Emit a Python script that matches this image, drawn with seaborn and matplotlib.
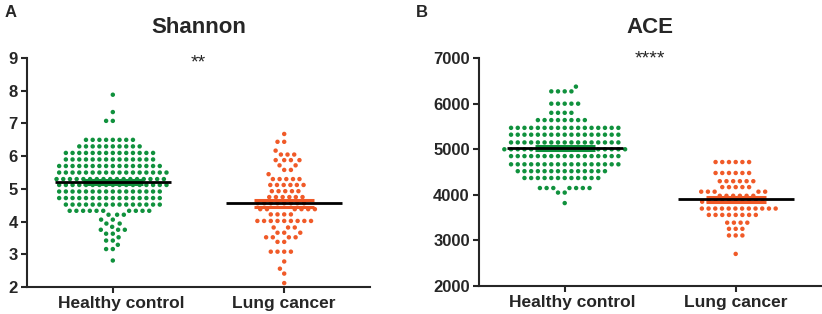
import numpy as np
import pandas as pd
import matplotlib
matplotlib.use("Agg")
import matplotlib.pyplot as plt
import matplotlib.transforms as mtransforms
import seaborn as sns

groups = ["Healthy control", "Lung cancer"]
colors = ["#10913d", "#f05a28"]

shannon_hc_levels = [7.88, 7.35, 7.08, 6.50, 6.30, 6.10, 5.90, 5.70, 5.50, 5.30,
                     5.12, 4.92, 4.72, 4.52, 4.33, 4.21, 4.06, 3.94, 3.84, 3.75,
                     3.63, 3.52, 3.42, 3.29, 3.16, 2.81]
shannon_hc_counts = [1, 1, 2, 8, 10, 14, 14, 16, 17, 17,
                     17, 16, 16, 15, 10, 3, 2, 2, 1, 3,
                     2, 1, 2, 1, 2, 1]
shannon_lc_levels = [6.68, 6.44, 6.17, 6.05, 5.88, 5.72, 5.58, 5.45, 5.30, 5.12,
                     4.93, 4.75, 4.56, 4.38, 4.22, 4.02, 3.82, 3.66, 3.52, 3.38,
                     3.08, 2.78, 2.56, 2.41, 2.12]
shannon_lc_counts = [1, 2, 1, 3, 4, 2, 2, 1, 5, 6,
                     5, 6, 8, 6, 4, 9, 3, 3, 4, 2,
                     4, 1, 1, 1, 1]

# ACE index
ace_hc_levels = [6374, 6270, 6000, 5800, 5640, 5470, 5320, 5150, 5000, 4850,
                 4670, 4520, 4370, 4150, 4050, 3820]
ace_hc_counts = [1, 4, 5, 4, 8, 17, 17, 17, 19, 17,
                 17, 14, 12, 7, 2, 1]
ace_lc_levels = [4720, 4480, 4300, 4170, 4070, 3980, 3850, 3700, 3560, 3390,
                 3255, 3110, 2705]
ace_lc_counts = [6, 6, 6, 5, 5, 6, 10, 12, 8, 4, 3, 3, 1]

panels = [
    ("A", "Shannon", shannon_hc_levels, shannon_hc_counts, shannon_lc_levels, shannon_lc_counts,
     (2, 9), np.arange(2, 10, 1), "**", 8.85),
    ("B", "ACE", ace_hc_levels, ace_hc_counts, ace_lc_levels, ace_lc_counts,
     (2000, 7000), np.arange(2000, 7001, 1000), "****", 6980),
]

sns.set_style("ticks")
plt.rcParams["font.family"] = ["Liberation Sans", "DejaVu Sans"]
plt.rcParams["axes.linewidth"] = 1.5

fig = plt.figure(figsize=(8.22, 3.14), dpi=100)
axes_pos = [[0.033, 0.086, 0.417, 0.729], [0.583, 0.089, 0.416, 0.726]]
letter_x = [0.006, 0.506]

for pos, lx, (letter, title, hc_lv, hc_n, lc_lv, lc_n, ylim, yticks, stars, star_y) in zip(axes_pos, letter_x, panels):
    ax = fig.add_axes(pos)
    df = pd.DataFrame({
        "group": np.repeat(groups, [sum(hc_n), sum(lc_n)]),
        "value": np.concatenate([np.repeat(hc_lv, hc_n), np.repeat(lc_lv, lc_n)]),
    })
    # linewidth with no edge colour only spaces the dots apart
    sns.swarmplot(data=df, x="group", y="value", hue="group", order=groups, hue_order=groups,
                  palette=colors, size=3.2, linewidth=1.4, edgecolor="none",
                  legend=False, warn_thresh=1, ax=ax)

    # mean line and SEM bars
    for i, g in enumerate(groups):
        v = df.loc[df["group"] == g, "value"]
        m, se = v.mean(), v.sem()
        ax.hlines([m - se, m + se], i - 0.175, i + 0.175, color=colors[i], lw=2.2, zorder=5)
        ax.hlines(m, i - 0.34, i + 0.34, color="black", lw=2.0, zorder=6)

    ax.set_xlim(-0.5, 1.5)
    ax.set_ylim(*ylim)
    ax.set_yticks(yticks)
    ax.set_xlabel("")
    ax.set_ylabel("")
    ax.tick_params(axis="both", width=1.5, length=4.3, labelsize=12, pad=2.5)
    ax.tick_params(axis="x", labelsize=12.5)
    for lab in ax.get_xticklabels() + ax.get_yticklabels():
        lab.set_fontweight("bold")
    # first category label sits a little right of its tick in the original
    hc_lab = ax.get_xticklabels()[0]
    hc_lab.set_transform(hc_lab.get_transform() + mtransforms.ScaledTranslation(8 / 100, 0, fig.dpi_scale_trans))
    sns.despine(ax=ax)
    ax.set_title(title, fontsize=16, fontweight="bold", pad=18)
    ax.text(0.5, star_y, stars, ha="center", va="center", fontsize=14)
    fig.text(lx, 0.985, letter, fontsize=12, fontweight="bold", va="top")

fig.savefig("out.png", dpi=100)
